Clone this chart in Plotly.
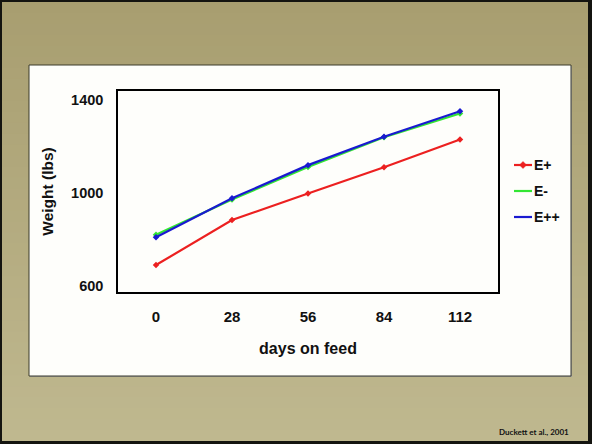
import plotly.graph_objects as go

# Feedlot weights by endophyte treatment
days = ["0", "28", "56", "84", "112"]
series_names = ["E+", "E-", "E++"]
e_plus = [688, 882, 996, 1109, 1228]
e_minus = [818, 970, 1110, 1238, 1340]
e_plusplus = [808, 975, 1118, 1240, 1350]
series_colors = ["#ec2020", "#33e633", "#1a1ad0"]
y_ticks = [600, 1000, 1400]

W, H = 592, 444
PL, PR, PT, PB = 118, 498, 91, 292  # plot area in pixels


def px(x):
    return (x - PL) / (PR - PL)


def py(y):
    return (PB - y) / (PB - PT)


fig = go.Figure()
for name, vals, col in zip(series_names, [e_plus, e_minus, e_plusplus], series_colors):
    fig.add_trace(go.Scatter(
        x=days, y=vals, name=name, mode="lines+markers",
        line=dict(color=col, width=2.2),
        marker=dict(symbol="diamond", size=5, color=col),
        showlegend=False,
    ))

shapes = []
# vertical tan gradient: each band runs to the bottom so no seams show
top_rgb = (168, 158, 112)
bot_rgb = (191, 184, 143)
n = 40
y0, y1 = 2, 441
for i in range(n):
    t = i / (n - 1)
    c = tuple(round(a + (b - a) * t) for a, b in zip(top_rgb, bot_rgb))
    ya = y0 + (y1 - y0) * i / n
    shapes.append(dict(type="rect", xref="paper", yref="paper", layer="below",
                       x0=px(2), x1=px(588), y0=py(ya), y1=py(y1),
                       fillcolor="rgb(%d,%d,%d)" % c, line=dict(width=0)))
# white panel with a subtle shadow
shapes.append(dict(type="rect", xref="paper", yref="paper", layer="below",
                   x0=px(30), x1=px(572), y0=py(66), y1=py(377),
                   fillcolor="#9a9a9a", line=dict(width=0)))
shapes.append(dict(type="rect", xref="paper", yref="paper", layer="below",
                   x0=px(29), x1=px(571), y0=py(65), y1=py(376),
                   fillcolor="#fefefb", line=dict(color="#3a3a2a", width=1)))

annotations = []
# hand-drawn legend: short line, then label
leg_y = [165, 191, 217]
for name, col, ly in zip(series_names, series_colors, leg_y):
    shapes.append(dict(type="line", xref="paper", yref="paper",
                       x0=px(514), x1=px(532), y0=py(ly), y1=py(ly),
                       line=dict(color=col, width=2.2)))
    annotations.append(dict(text=name, xref="paper", yref="paper",
                            x=px(532), y=py(ly), xanchor="left", yanchor="middle",
                            showarrow=False,
                            font=dict(family="Liberation Sans", size=14, color="#111", weight="bold")))
# diamond marker on the first legend entry
mx, my, r = 523, leg_y[0], 3.5
diamond = "M {} {} L {} {} L {} {} L {} {} Z".format(
    px(mx - r), py(my), px(mx), py(my - r), px(mx + r), py(my), px(mx), py(my + r))
shapes.append(dict(type="path", xref="paper", yref="paper", path=diamond,
                   fillcolor=series_colors[0], line=dict(color=series_colors[0], width=0.5)))

annotations.append(dict(text="Duckett et al., 2001", xref="paper", yref="paper",
                        x=px(571), y=py(432), xanchor="right", yanchor="middle",
                        showarrow=False,
                        font=dict(family="Lato", size=8, color="#111", weight="bold")))

tick_font = dict(family="Liberation Sans", size=15, color="#111", weight="bold")
fig.update_layout(
    width=W, height=H,
    margin=dict(l=PL, r=W - PR, t=PT, b=H - PB, pad=0),
    paper_bgcolor="#141410",
    plot_bgcolor="rgba(0,0,0,0)",
    shapes=shapes,
    annotations=annotations,
    showlegend=False,
    xaxis=dict(
        type="category", range=[-0.5, 4.5], showgrid=False, zeroline=False,
        showline=True, mirror=True, linecolor="#000", linewidth=1.5,
        ticks="", tickfont=tick_font, ticklabelstandoff=10,
        title=dict(text="days on feed", font=dict(family="Liberation Sans", size=16,
                                                  color="#111", weight="bold"), standoff=19),
    ),
    yaxis=dict(
        range=[572, 1437], tickvals=y_ticks, showgrid=False, zeroline=False,
        showline=True, mirror=True, linecolor="#000", linewidth=1.5,
        ticks="", tickfont=dict(tick_font, size=14.5), ticklabelstandoff=10,
        title=dict(text="Weight (lbs)", font=dict(family="Liberation Sans", size=15.5,
                                                  color="#111", weight="bold"), standoff=14),
    ),
)

fig.write_html("out.html")
